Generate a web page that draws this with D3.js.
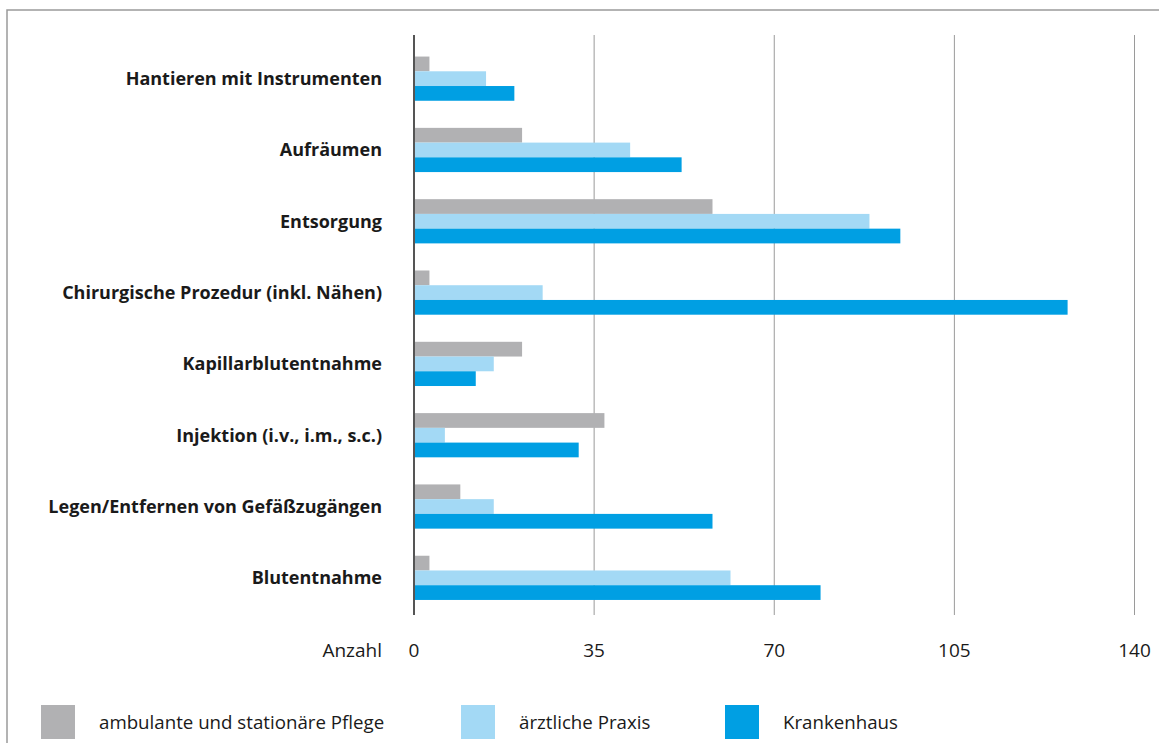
<!DOCTYPE html>
<html lang="de">
<head>
<meta charset="utf-8">
<script src="https://d3js.org/d3.v7.min.js"></script>
<style>
  body { margin: 0; background: #fff; }
  svg text { font-family: "Open Sans", "Noto Sans", sans-serif; font-stretch: 90%; fill: #1a1a1a; }
</style>
</head>
<body>
<script>
// categories (top to bottom) and counts per setting
const categories = [
  "Hantieren mit Instrumenten",
  "Aufräumen",
  "Entsorgung",
  "Chirurgische Prozedur (inkl. Nähen)",
  "Kapillarblutentnahme",
  "Injektion (i.v., i.m., s.c.)",
  "Legen/Entfernen von Gefäßzugängen",
  "Blutentnahme"
];
const seriesNames = ["ambulante und stationäre Pflege", "ärztliche Praxis", "Krankenhaus"];
const pflege  = [3, 21, 58, 3, 21, 37, 9, 3];
const praxis  = [14, 42, 88.5, 25, 15.5, 6, 15.5, 61.5];
const klinik  = [19.5, 52, 94.5, 127, 12, 32, 58, 79];
const xTicks = [0, 35, 70, 105, 140];
const colors = ["#b1b1b3", "#a3d9f5", "#009fe3"];

const width = 1159, height = 743;
const svg = d3.select("body").append("svg")
    .attr("width", width).attr("height", height);

// frame lines (top + left)
svg.append("path")
    .attr("d", `M7,${height} V10 H${width}`)
    .attr("fill", "none").attr("stroke", "#9a9a9a").attr("stroke-width", 1.5);

const x = d3.scaleLinear().domain([0, 140]).range([414, 1134.5]);
const y = d3.scaleBand().domain(categories).range([43, 613.5]).paddingInner(0.38).paddingOuter(0.19);
const ySub = d3.scaleBand().domain(d3.range(3)).range([0, y.bandwidth()]);

const rows = categories.map((c, i) => ({ cat: c, vals: [pflege[i], praxis[i], klinik[i]] }));

// grid lines
svg.append("g").selectAll("line").data(xTicks.slice(1)).join("line")
    .attr("x1", d => x(d)).attr("x2", d => x(d))
    .attr("y1", 35).attr("y2", 615)
    .attr("stroke", "#9a9a9a").attr("stroke-width", 1);

// bars
const g = svg.append("g").selectAll("g").data(rows).join("g")
    .attr("transform", d => `translate(0,${y(d.cat)})`);
g.selectAll("rect").data(d => d.vals).join("rect")
    .attr("x", x(0) + 1)
    .attr("y", (d, i) => ySub(i))
    .attr("width", d => x(d) - x(0) - 1)
    .attr("height", ySub.bandwidth())
    .attr("fill", (d, i) => colors[i]);

// y axis line
svg.append("line")
    .attr("x1", x(0)).attr("x2", x(0)).attr("y1", 35).attr("y2", 615)
    .attr("stroke", "#555").attr("stroke-width", 2);

// category labels
svg.append("g").selectAll("text").data(categories).join("text")
    .attr("x", 382)
    .attr("y", d => y(d) + y.bandwidth() / 2)
    .attr("dy", "0.35em")
    .attr("text-anchor", "end")
    .attr("font-size", 18)
    .attr("font-weight", "bold")
    .text(d => d);

// x tick labels
svg.append("g").selectAll("text").data(xTicks).join("text")
    .attr("x", d => x(d))
    .attr("y", 650)
    .attr("dy", "0.35em")
    .attr("text-anchor", "middle")
    .attr("font-size", 19)
    .text(d => d);
svg.append("text")
    .attr("x", 382).attr("y", 650).attr("dy", "0.35em")
    .attr("text-anchor", "end").attr("font-size", 19)
    .text("Anzahl");

// legend
const legendX = [41, 461, 725];
const lg = svg.append("g").selectAll("g").data(seriesNames).join("g")
    .attr("transform", (d, i) => `translate(${legendX[i]},705)`);
lg.append("rect").attr("width", 34).attr("height", 34).attr("fill", (d, i) => colors[i]);
lg.append("text").attr("x", 58).attr("y", 17).attr("dy", "0.35em")
    .attr("font-size", 18.7).text(d => d);
</script>
</body>
</html>
